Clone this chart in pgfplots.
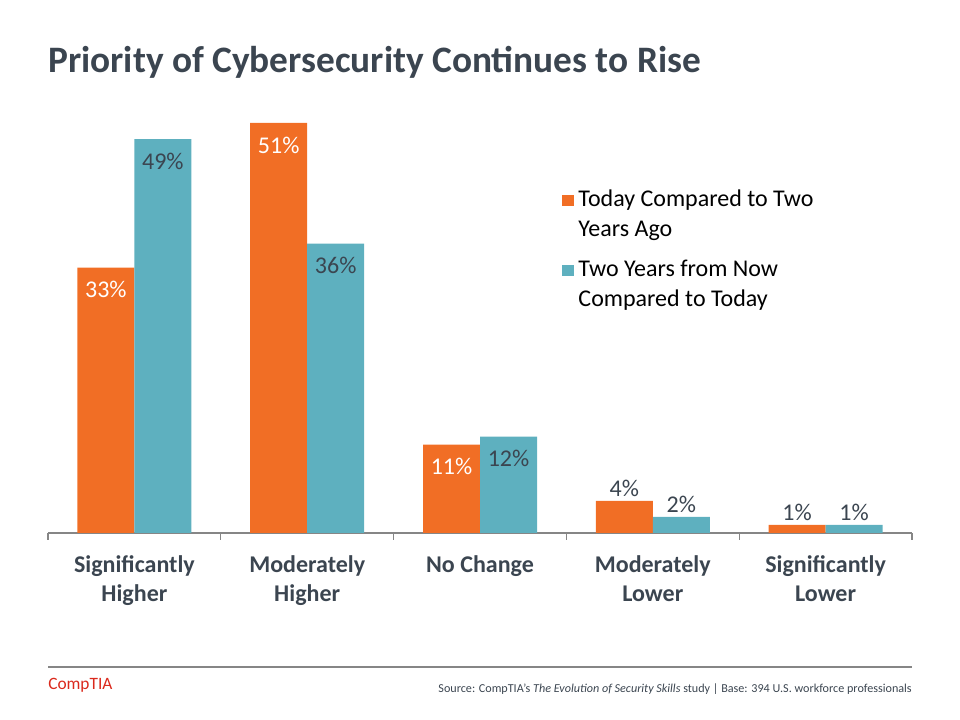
\documentclass[border=0pt]{standalone}
\usepackage{fontspec}
\setmainfont{Carlito}
\usepackage{pgfplots}
\pgfplotsset{compat=1.18}
\definecolor{orng}{RGB}{241,110,37}
\definecolor{tealc}{RGB}{94,176,191}
\definecolor{slate}{RGB}{59,69,80}
\definecolor{axgray}{RGB}{134,134,134}
\definecolor{ctred}{RGB}{218,41,28}
\pgfplotstableread{
x y lbl off w
0 33 33 -16.5 100
1 51 51 -16.5 100
2 11 11 -16.5 100
3 4 4 9.5 0
4 1 1 9.5 0
}\tabA
\pgfplotstableread{
x y lbl off w
0 49 49 -16.5 0
1 36 36 -16.5 0
2 12 12 -16.5 0
3 2 2 9.5 0
4 1 1 9.5 0
}\tabB
\begin{document}
\begin{tikzpicture}[x=1pt,y=1pt]
\path[use as bounding box] (0,0) rectangle (720,540);
\node[anchor=base west, inner sep=0pt, text=slate, font=\fontsize{28}{34}\selectfont\bfseries] at (36,485.25) {Priority of Cybersecurity Continues to Rise};
\begin{axis}[
  at={(36pt,140.25pt)}, anchor=south west,
  scale only axis, width=648pt, height=307.5pt,
  xmin=-0.5, xmax=4.5, ymin=0, ymax=51,
  ybar=0pt, bar width=42.75pt,
  axis y line=none, axis x line*=bottom,
  x axis line style={-, axgray, line width=1pt},
  xtick={0,1,2,3,4},
  xticklabels={Significantly\\Higher, Moderately\\Higher, No Change, Moderately\\Lower, Significantly\\Lower},
  major tick length=0pt,
  minor xtick={-0.5,0.5,1.5,2.5,3.5,4.5},
  minor tick length=5.25pt, tick align=outside,
  minor tick style={axgray, line width=1pt},
  xticklabel style={align=center, anchor=north, inner sep=0pt, yshift=-17pt, text=slate, font=\fontsize{18}{21.75}\selectfont\bfseries},
  ytick=\empty,
  point meta=explicit symbolic,
  visualization depends on={\thisrow{off} \as \myoff},
  visualization depends on={\thisrow{w} \as \mywt},
  nodes near coords={\pgfplotspointmeta\%},
  every node near coord/.append style={anchor=center, yshift=\myoff, text=white!\mywt!slate, font=\fontsize{18}{21.75}\selectfont},
  legend style={at={(rel axis cs:0.5905,0.85)}, anchor=north west, draw=none, fill=none,
    font=\fontsize{18}{22.5}\selectfont, text=black, row sep=11.75pt,
    cells={anchor=base west, align=left}},
  legend image code/.code={\fill[#1,draw=none] (0pt,22.75pt) rectangle (8.5pt,31.25pt); \path (10pt,23pt);},
]
\addplot[fill=orng, draw=none] table[x=x, y=y, meta=lbl] {\tabA};
\addlegendentry{Today Compared to Two\\Years Ago}
\addplot[fill=tealc, draw=none] table[x=x, y=y, meta=lbl] {\tabB};
\addlegendentry{Two Years from Now\\Compared to Today}
\end{axis}
\draw[axgray, line width=1pt] (36,39.75) -- (684,39.75);
\node[anchor=base west, inner sep=0pt, text=ctred, font=\fontsize{13}{15}\selectfont] at (36,22.5) {CompTIA};
\node[anchor=base east, inner sep=0pt, text=slate, font=\fontsize{9.1}{11}\selectfont] at (684,20.5) {Source: CompTIA's \textit{The Evolution of Security Skills} study | Base: 394 U.S. workforce professionals};
\end{tikzpicture}
\end{document}
